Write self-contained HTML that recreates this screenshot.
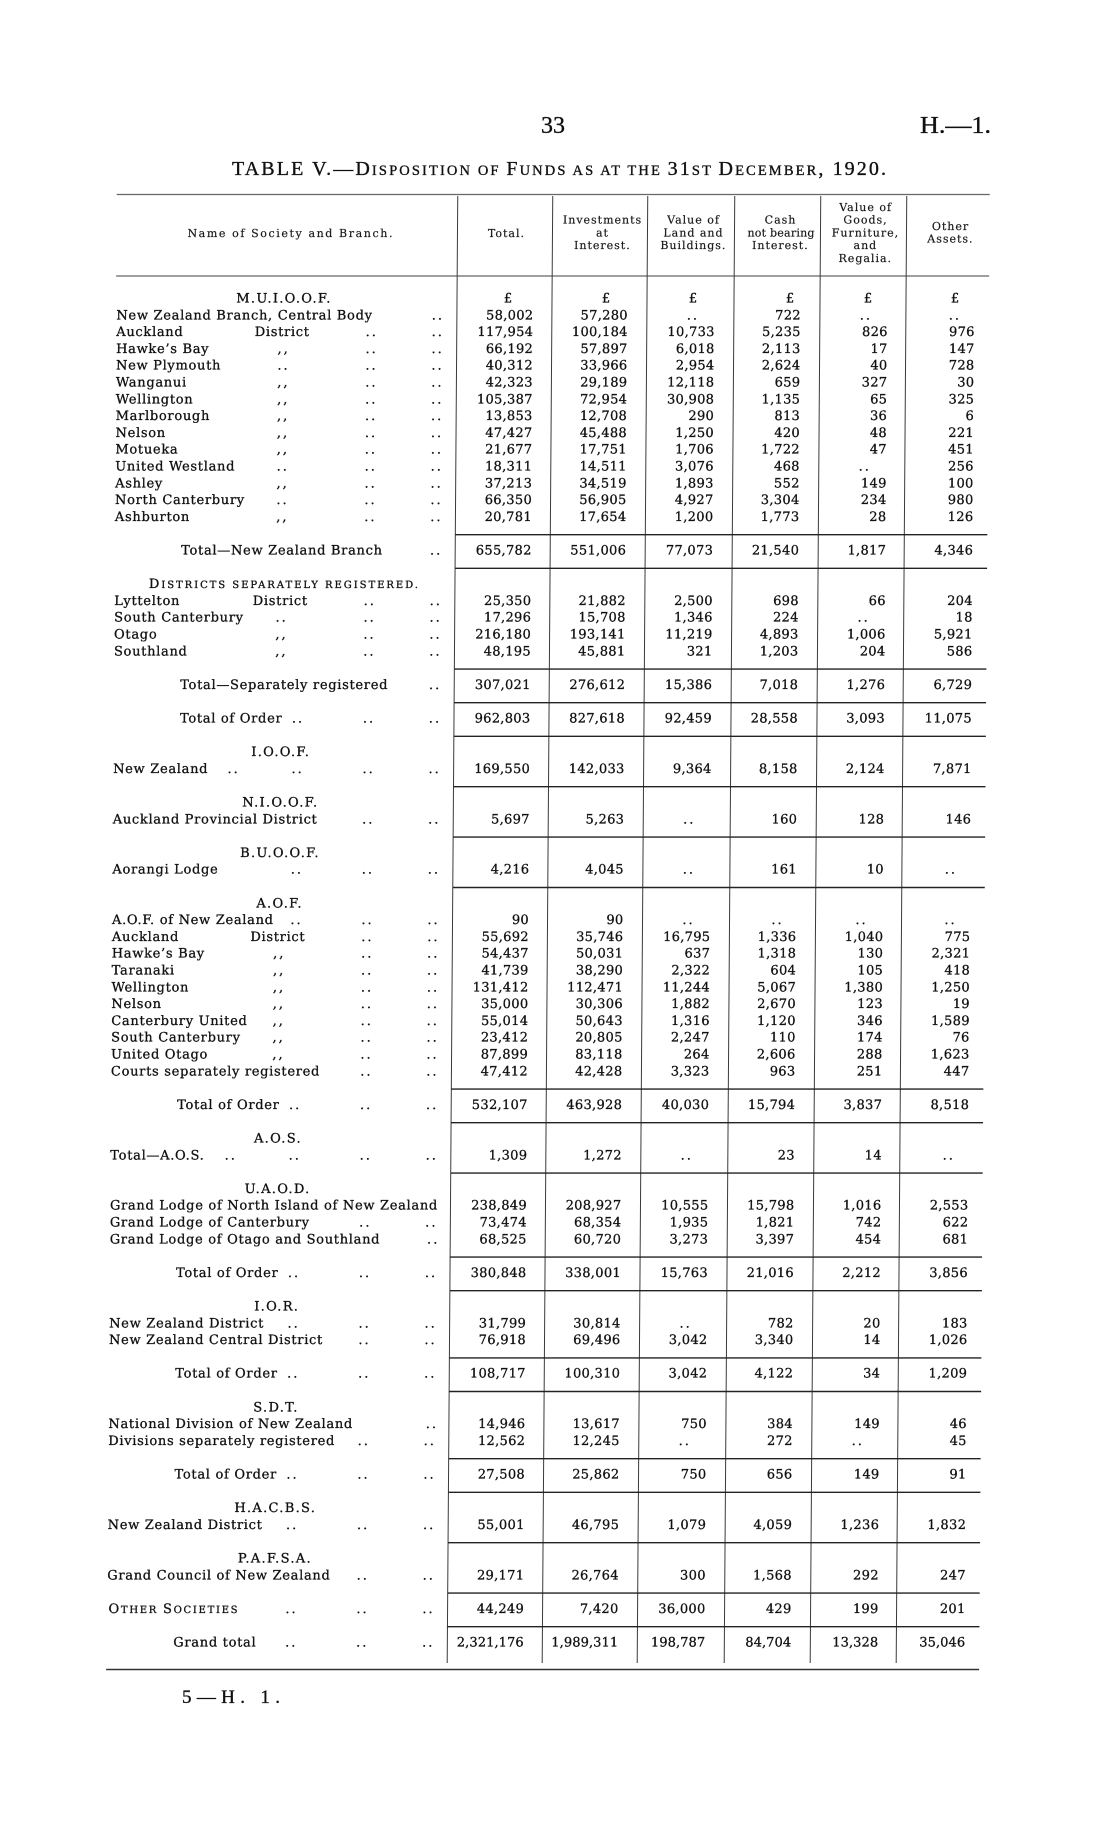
<!DOCTYPE html>
<html>
<head>
<meta charset="utf-8">
<style>
html,body{margin:0;padding:0;background:#fff;}
svg{display:block;}
text{font-family:"DejaVu Serif",serif;fill:#111;stroke:#111;stroke-width:0.3px;}
.nm{font-size:13px;letter-spacing:0.7px;}
.n{font-size:13px;letter-spacing:0.3px;text-anchor:end;}
.g{letter-spacing:0.1px;}
.d{font-size:13px;letter-spacing:2px;text-anchor:middle;}
.h{font-size:13px;letter-spacing:1.3px;text-anchor:middle;}
.hd{font-size:11px;letter-spacing:1px;text-anchor:middle;fill:#1a1a1a;stroke:#1a1a1a;stroke-width:0.2px;}
.pg{font-family:"Liberation Serif",serif;stroke-width:0.35px;}
.hl{stroke:#222;stroke-width:1.4;}
.vl{stroke:#3a3a3a;stroke-width:1;}
.tl{stroke:#666;stroke-width:1.3;}
</style>
</head>
<body>
<svg width="1114" height="1824" viewBox="0 0 1114 1824" xmlns="http://www.w3.org/2000/svg">
<rect width="1114" height="1824" fill="#fff"/>
<!-- page header -->
<text class="pg" x="553" y="133" font-size="24" text-anchor="middle">33</text>
<text class="pg" x="920" y="133" font-size="24" textLength="71" lengthAdjust="spacingAndGlyphs">H.—1.</text>
<text class="pg" x="232" y="175" font-size="20" textLength="654" lengthAdjust="spacing">TABLE V.—D<tspan font-size="14.5">ISPOSITION OF </tspan>F<tspan font-size="14.5">UNDS AS AT THE </tspan>31<tspan font-size="14.5">ST </tspan>D<tspan font-size="14.5">ECEMBER</tspan>, 1920.</text>
<text class="pg" x="182" y="1703" font-size="19" textLength="98" lengthAdjust="spacing">5—H. 1.</text>

<g transform="matrix(1,0,-0.0072,1,2.16,0)">
<!-- header rules -->
<line class="tl" x1="116" y1="194.5" x2="989" y2="194.5"/>
<line class="tl" x1="116" y1="276" x2="989" y2="276"/>
<!-- verticals -->
<line class="vl" x1="457" y1="196" x2="457" y2="1663"/>
<line class="vl" x1="552" y1="196" x2="552" y2="1663"/>
<line class="vl" x1="647" y1="196" x2="647" y2="1663"/>
<line class="vl" x1="734" y1="196" x2="734" y2="1663"/>
<line class="vl" x1="820" y1="196" x2="820" y2="1663"/>
<line class="vl" x1="906" y1="196" x2="906" y2="1663"/>
<!-- bottom rule -->
<line stroke="#333" stroke-width="1.6" x1="116" y1="1669.5" x2="989" y2="1669.5"/>

<!-- column headers -->
<text class="hd" x="290" y="237" textLength="206" lengthAdjust="spacing">Name of Society and Branch.</text>
<text class="hd" x="506" y="237">Total.</text>
<text class="hd" x="602" y="223.7">Investments</text>
<text class="hd" x="602" y="236.4">at</text>
<text class="hd" x="602" y="249.1">Interest.</text>
<text class="hd" x="693" y="223.7">Value of</text>
<text class="hd" x="693" y="236.4">Land and</text>
<text class="hd" x="693" y="249.1">Buildings.</text>
<text class="hd" x="780" y="223.7">Cash</text>
<text class="hd" x="781" y="236.4" textLength="68" lengthAdjust="spacing">not bearing</text>
<text class="hd" x="780" y="249.1">Interest.</text>
<text class="hd" x="865" y="211">Value of</text>
<text class="hd" x="865" y="223.7">Goods,</text>
<text class="hd" x="865" y="236.4">Furniture,</text>
<text class="hd" x="865" y="249.1">and</text>
<text class="hd" x="865" y="261.8">Regalia.</text>
<text class="hd" x="950" y="230">Other</text>
<text class="hd" x="950" y="242.7">Assets.</text>

<!-- horizontal rules in number columns -->
<line class="hl" x1="457" y1="534.7" x2="989" y2="534.7"/>
<line class="hl" x1="457" y1="568.3" x2="989" y2="568.3"/>
<line class="hl" x1="457" y1="669.1" x2="989" y2="669.1"/>
<line class="hl" x1="457" y1="702.7" x2="989" y2="702.7"/>
<line class="hl" x1="457" y1="736.3" x2="989" y2="736.3"/>
<line class="hl" x1="457" y1="786.7" x2="989" y2="786.7"/>
<line class="hl" x1="457" y1="837.1" x2="989" y2="837.1"/>
<line class="hl" x1="457" y1="887.5" x2="989" y2="887.5"/>
<line class="hl" x1="457" y1="1089.1" x2="989" y2="1089.1"/>
<line class="hl" x1="457" y1="1122.7" x2="989" y2="1122.7"/>
<line class="hl" x1="457" y1="1173.1" x2="989" y2="1173.1"/>
<line class="hl" x1="457" y1="1257.1" x2="989" y2="1257.1"/>
<line class="hl" x1="457" y1="1290.7" x2="989" y2="1290.7"/>
<line class="hl" x1="457" y1="1357.9" x2="989" y2="1357.9"/>
<line class="hl" x1="457" y1="1391.5" x2="989" y2="1391.5"/>
<line class="hl" x1="457" y1="1458.7" x2="989" y2="1458.7"/>
<line class="hl" x1="457" y1="1492.3" x2="989" y2="1492.3"/>
<line class="hl" x1="457" y1="1542.7" x2="989" y2="1542.7"/>
<line class="hl" x1="457" y1="1593.1" x2="989" y2="1593.1"/>
<line class="hl" x1="457" y1="1626.7" x2="989" y2="1626.7"/>

<!-- ===== M.U.I.O.O.F. ===== -->
<text class="h" x="284" y="302.5">M.U.I.O.O.F.</text>
<text class="h" y="302.5" style="letter-spacing:0"><tspan x="508">£</tspan><tspan x="606">£</tspan><tspan x="693">£</tspan><tspan x="790">£</tspan><tspan x="868">£</tspan><tspan x="955">£</tspan></text>

<text class="nm" x="116.5" y="319.3">New Zealand Branch, Central Body</text>
<text class="d" x="438" y="319.3">..</text>
<text class="n" y="319.3"><tspan x="533.5">58,002</tspan><tspan x="628">57,280</tspan><tspan x="801">722</tspan></text>
<text class="d" x="693" y="319.3">..</text><text class="d" x="866" y="319.3">..</text><text class="d" x="955" y="319.3">..</text>

<text class="nm" x="116.5" y="336.1">Auckland</text><text class="nm" x="255" y="336.1">District</text>
<text class="d" x="372" y="336.1">..</text><text class="d" x="438" y="336.1">..</text>
<text class="n" y="336.1"><tspan x="533.5">117,954</tspan><tspan x="628">100,184</tspan><tspan x="715">10,733</tspan><tspan x="801">5,235</tspan><tspan x="888">826</tspan><tspan x="975">976</tspan></text>

<text class="nm" x="116.5" y="352.9">Hawke’s Bay</text>
<text class="d" x="284" y="352.9">,,</text><text class="d" x="372" y="352.9">..</text><text class="d" x="438" y="352.9">..</text>
<text class="n" y="352.9"><tspan x="533.5">66,192</tspan><tspan x="628">57,897</tspan><tspan x="715">6,018</tspan><tspan x="801">2,113</tspan><tspan x="888">17</tspan><tspan x="975">147</tspan></text>

<text class="nm" x="116.5" y="369.7">New Plymouth</text>
<text class="d" x="284" y="369.7">..</text><text class="d" x="372" y="369.7">..</text><text class="d" x="438" y="369.7">..</text>
<text class="n" y="369.7"><tspan x="533.5">40,312</tspan><tspan x="628">33,966</tspan><tspan x="715">2,954</tspan><tspan x="801">2,624</tspan><tspan x="888">40</tspan><tspan x="975">728</tspan></text>

<text class="nm" x="116.5" y="386.5">Wanganui</text>
<text class="d" x="284" y="386.5">,,</text><text class="d" x="372" y="386.5">..</text><text class="d" x="438" y="386.5">..</text>
<text class="n" y="386.5"><tspan x="533.5">42,323</tspan><tspan x="628">29,189</tspan><tspan x="715">12,118</tspan><tspan x="801">659</tspan><tspan x="888">327</tspan><tspan x="975">30</tspan></text>

<text class="nm" x="116.5" y="403.3">Wellington</text>
<text class="d" x="284" y="403.3">,,</text><text class="d" x="372" y="403.3">..</text><text class="d" x="438" y="403.3">..</text>
<text class="n" y="403.3"><tspan x="533.5">105,387</tspan><tspan x="628">72,954</tspan><tspan x="715">30,908</tspan><tspan x="801">1,135</tspan><tspan x="888">65</tspan><tspan x="975">325</tspan></text>

<text class="nm" x="116.5" y="420.1">Marlborough</text>
<text class="d" x="284" y="420.1">,,</text><text class="d" x="372" y="420.1">..</text><text class="d" x="438" y="420.1">..</text>
<text class="n" y="420.1"><tspan x="533.5">13,853</tspan><tspan x="628">12,708</tspan><tspan x="715">290</tspan><tspan x="801">813</tspan><tspan x="888">36</tspan><tspan x="975">6</tspan></text>

<text class="nm" x="116.5" y="436.9">Nelson</text>
<text class="d" x="284" y="436.9">,,</text><text class="d" x="372" y="436.9">..</text><text class="d" x="438" y="436.9">..</text>
<text class="n" y="436.9"><tspan x="533.5">47,427</tspan><tspan x="628">45,488</tspan><tspan x="715">1,250</tspan><tspan x="801">420</tspan><tspan x="888">48</tspan><tspan x="975">221</tspan></text>

<text class="nm" x="116.5" y="453.7">Motueka</text>
<text class="d" x="284" y="453.7">,,</text><text class="d" x="372" y="453.7">..</text><text class="d" x="438" y="453.7">..</text>
<text class="n" y="453.7"><tspan x="533.5">21,677</tspan><tspan x="628">17,751</tspan><tspan x="715">1,706</tspan><tspan x="801">1,722</tspan><tspan x="888">47</tspan><tspan x="975">451</tspan></text>

<text class="nm" x="116.5" y="470.5">United Westland</text>
<text class="d" x="284" y="470.5">..</text><text class="d" x="372" y="470.5">..</text><text class="d" x="438" y="470.5">..</text>
<text class="n" y="470.5"><tspan x="533.5">18,311</tspan><tspan x="628">14,511</tspan><tspan x="715">3,076</tspan><tspan x="801">468</tspan><tspan x="975">256</tspan></text>
<text class="d" x="866" y="470.5">..</text>

<text class="nm" x="116.5" y="487.3">Ashley</text>
<text class="d" x="284" y="487.3">,,</text><text class="d" x="372" y="487.3">..</text><text class="d" x="438" y="487.3">..</text>
<text class="n" y="487.3"><tspan x="533.5">37,213</tspan><tspan x="628">34,519</tspan><tspan x="715">1,893</tspan><tspan x="801">552</tspan><tspan x="888">149</tspan><tspan x="975">100</tspan></text>

<text class="nm" x="116.5" y="504.1">North Canterbury</text>
<text class="d" x="284" y="504.1">..</text><text class="d" x="372" y="504.1">..</text><text class="d" x="438" y="504.1">..</text>
<text class="n" y="504.1"><tspan x="533.5">66,350</tspan><tspan x="628">56,905</tspan><tspan x="715">4,927</tspan><tspan x="801">3,304</tspan><tspan x="888">234</tspan><tspan x="975">980</tspan></text>

<text class="nm" x="116.5" y="520.9">Ashburton</text>
<text class="d" x="284" y="520.9">,,</text><text class="d" x="372" y="520.9">..</text><text class="d" x="438" y="520.9">..</text>
<text class="n" y="520.9"><tspan x="533.5">20,781</tspan><tspan x="628">17,654</tspan><tspan x="715">1,200</tspan><tspan x="801">1,773</tspan><tspan x="888">28</tspan><tspan x="975">126</tspan></text>

<text class="nm" x="183" y="554.5">Total—New Zealand Branch</text>
<text class="d" x="438" y="554.5">..</text>
<text class="n" y="554.5"><tspan x="533.5">655,782</tspan><tspan x="628">551,006</tspan><tspan x="715">77,073</tspan><tspan x="801">21,540</tspan><tspan x="888">1,817</tspan><tspan x="975">4,346</tspan></text>

<!-- Districts separately registered -->
<text class="nm" x="151" y="588.1" textLength="269" lengthAdjust="spacing" style="letter-spacing:0">D<tspan font-size="10">ISTRICTS SEPARATELY REGISTERED.</tspan></text>

<text class="nm" x="116.5" y="604.9">Lyttelton</text><text class="nm" x="255" y="604.9">District</text>
<text class="d" x="372" y="604.9">..</text><text class="d" x="438" y="604.9">..</text>
<text class="n" y="604.9"><tspan x="533.5">25,350</tspan><tspan x="628">21,882</tspan><tspan x="715">2,500</tspan><tspan x="801">698</tspan><tspan x="888">66</tspan><tspan x="975">204</tspan></text>

<text class="nm" x="116.5" y="621.7">South Canterbury</text>
<text class="d" x="284" y="621.7">..</text><text class="d" x="372" y="621.7">..</text><text class="d" x="438" y="621.7">..</text>
<text class="n" y="621.7"><tspan x="533.5">17,296</tspan><tspan x="628">15,708</tspan><tspan x="715">1,346</tspan><tspan x="801">224</tspan><tspan x="975">18</tspan></text>
<text class="d" x="866" y="621.7">..</text>

<text class="nm" x="116.5" y="638.5">Otago</text>
<text class="d" x="284" y="638.5">,,</text><text class="d" x="372" y="638.5">..</text><text class="d" x="438" y="638.5">..</text>
<text class="n" y="638.5"><tspan x="533.5">216,180</tspan><tspan x="628">193,141</tspan><tspan x="715">11,219</tspan><tspan x="801">4,893</tspan><tspan x="888">1,006</tspan><tspan x="975">5,921</tspan></text>

<text class="nm" x="116.5" y="655.3">Southland</text>
<text class="d" x="284" y="655.3">,,</text><text class="d" x="372" y="655.3">..</text><text class="d" x="438" y="655.3">..</text>
<text class="n" y="655.3"><tspan x="533.5">48,195</tspan><tspan x="628">45,881</tspan><tspan x="715">321</tspan><tspan x="801">1,203</tspan><tspan x="888">204</tspan><tspan x="975">586</tspan></text>

<text class="nm" x="183" y="688.9">Total—Separately registered</text>
<text class="d" x="438" y="688.9">..</text>
<text class="n" y="688.9"><tspan x="533.5">307,021</tspan><tspan x="628">276,612</tspan><tspan x="715">15,386</tspan><tspan x="801">7,018</tspan><tspan x="888">1,276</tspan><tspan x="975">6,729</tspan></text>

<text class="nm" x="183" y="722.5">Total of Order</text>
<text class="d" x="301" y="722.5">..</text><text class="d" x="372" y="722.5">..</text><text class="d" x="438" y="722.5">..</text>
<text class="n" y="722.5"><tspan x="533.5">962,803</tspan><tspan x="628">827,618</tspan><tspan x="715">92,459</tspan><tspan x="801">28,558</tspan><tspan x="888">3,093</tspan><tspan x="975">11,075</tspan></text>

<!-- I.O.O.F. -->
<text class="h" x="284" y="756.1">I.O.O.F.</text>
<text class="nm" x="116.5" y="772.9">New Zealand</text>
<text class="d" x="237" y="772.9">..</text><text class="d" x="301" y="772.9">..</text><text class="d" x="372" y="772.9">..</text><text class="d" x="438" y="772.9">..</text>
<text class="n" y="772.9"><tspan x="533.5">169,550</tspan><tspan x="628">142,033</tspan><tspan x="715">9,364</tspan><tspan x="801">8,158</tspan><tspan x="888">2,124</tspan><tspan x="975">7,871</tspan></text>

<!-- N.I.O.O.F. -->
<text class="h" x="284" y="806.5">N.I.O.O.F.</text>
<text class="nm" x="116.5" y="823.3">Auckland Provincial District</text>
<text class="d" x="372" y="823.3">..</text><text class="d" x="438" y="823.3">..</text>
<text class="n" y="823.3"><tspan x="533.5">5,697</tspan><tspan x="628">5,263</tspan><tspan x="801">160</tspan><tspan x="888">128</tspan><tspan x="975">146</tspan></text>
<text class="d" x="693" y="823.3">..</text>

<!-- B.U.O.O.F. -->
<text class="h" x="284" y="856.9">B.U.O.O.F.</text>
<text class="nm" x="116.5" y="873.7">Aorangi Lodge</text>
<text class="d" x="301" y="873.7">..</text><text class="d" x="372" y="873.7">..</text><text class="d" x="438" y="873.7">..</text>
<text class="n" y="873.7"><tspan x="533.5">4,216</tspan><tspan x="628">4,045</tspan><tspan x="801">161</tspan><tspan x="888">10</tspan></text>
<text class="d" x="693" y="873.7">..</text><text class="d" x="955" y="873.7">..</text>

<!-- A.O.F. -->
<text class="h" x="284" y="907.3">A.O.F.</text>
<text class="nm" x="116.5" y="924.1">A.O.F. of New Zealand</text>
<text class="d" x="301" y="924.1">..</text><text class="d" x="372" y="924.1">..</text><text class="d" x="438" y="924.1">..</text>
<text class="n" y="924.1"><tspan x="533.5">90</tspan><tspan x="628">90</tspan></text>
<text class="d" x="693" y="924.1">..</text><text class="d" x="782" y="924.1">..</text><text class="d" x="866" y="924.1">..</text><text class="d" x="955" y="924.1">..</text>

<text class="nm" x="116.5" y="940.9">Auckland</text><text class="nm" x="255" y="940.9">District</text>
<text class="d" x="372" y="940.9">..</text><text class="d" x="438" y="940.9">..</text>
<text class="n" y="940.9"><tspan x="533.5">55,692</tspan><tspan x="628">35,746</tspan><tspan x="715">16,795</tspan><tspan x="801">1,336</tspan><tspan x="888">1,040</tspan><tspan x="975">775</tspan></text>

<text class="nm" x="116.5" y="957.7">Hawke’s Bay</text>
<text class="d" x="284" y="957.7">,,</text><text class="d" x="372" y="957.7">..</text><text class="d" x="438" y="957.7">..</text>
<text class="n" y="957.7"><tspan x="533.5">54,437</tspan><tspan x="628">50,031</tspan><tspan x="715">637</tspan><tspan x="801">1,318</tspan><tspan x="888">130</tspan><tspan x="975">2,321</tspan></text>

<text class="nm" x="116.5" y="974.5">Taranaki</text>
<text class="d" x="284" y="974.5">,,</text><text class="d" x="372" y="974.5">..</text><text class="d" x="438" y="974.5">..</text>
<text class="n" y="974.5"><tspan x="533.5">41,739</tspan><tspan x="628">38,290</tspan><tspan x="715">2,322</tspan><tspan x="801">604</tspan><tspan x="888">105</tspan><tspan x="975">418</tspan></text>

<text class="nm" x="116.5" y="991.3">Wellington</text>
<text class="d" x="284" y="991.3">,,</text><text class="d" x="372" y="991.3">..</text><text class="d" x="438" y="991.3">..</text>
<text class="n" y="991.3"><tspan x="533.5">131,412</tspan><tspan x="628">112,471</tspan><tspan x="715">11,244</tspan><tspan x="801">5,067</tspan><tspan x="888">1,380</tspan><tspan x="975">1,250</tspan></text>

<text class="nm" x="116.5" y="1008.1">Nelson</text>
<text class="d" x="284" y="1008.1">,,</text><text class="d" x="372" y="1008.1">..</text><text class="d" x="438" y="1008.1">..</text>
<text class="n" y="1008.1"><tspan x="533.5">35,000</tspan><tspan x="628">30,306</tspan><tspan x="715">1,882</tspan><tspan x="801">2,670</tspan><tspan x="888">123</tspan><tspan x="975">19</tspan></text>

<text class="nm" x="116.5" y="1024.9">Canterbury United</text>
<text class="d" x="284" y="1024.9">,,</text><text class="d" x="372" y="1024.9">..</text><text class="d" x="438" y="1024.9">..</text>
<text class="n" y="1024.9"><tspan x="533.5">55,014</tspan><tspan x="628">50,643</tspan><tspan x="715">1,316</tspan><tspan x="801">1,120</tspan><tspan x="888">346</tspan><tspan x="975">1,589</tspan></text>

<text class="nm" x="116.5" y="1041.7">South Canterbury</text>
<text class="d" x="284" y="1041.7">,,</text><text class="d" x="372" y="1041.7">..</text><text class="d" x="438" y="1041.7">..</text>
<text class="n" y="1041.7"><tspan x="533.5">23,412</tspan><tspan x="628">20,805</tspan><tspan x="715">2,247</tspan><tspan x="801">110</tspan><tspan x="888">174</tspan><tspan x="975">76</tspan></text>

<text class="nm" x="116.5" y="1058.5">United Otago</text>
<text class="d" x="284" y="1058.5">,,</text><text class="d" x="372" y="1058.5">..</text><text class="d" x="438" y="1058.5">..</text>
<text class="n" y="1058.5"><tspan x="533.5">87,899</tspan><tspan x="628">83,118</tspan><tspan x="715">264</tspan><tspan x="801">2,606</tspan><tspan x="888">288</tspan><tspan x="975">1,623</tspan></text>

<text class="nm" x="116.5" y="1075.3">Courts separately registered</text>
<text class="d" x="372" y="1075.3">..</text><text class="d" x="438" y="1075.3">..</text>
<text class="n" y="1075.3"><tspan x="533.5">47,412</tspan><tspan x="628">42,428</tspan><tspan x="715">3,323</tspan><tspan x="801">963</tspan><tspan x="888">251</tspan><tspan x="975">447</tspan></text>

<text class="nm" x="183" y="1108.9">Total of Order</text>
<text class="d" x="301" y="1108.9">..</text><text class="d" x="372" y="1108.9">..</text><text class="d" x="438" y="1108.9">..</text>
<text class="n" y="1108.9"><tspan x="533.5">532,107</tspan><tspan x="628">463,928</tspan><tspan x="715">40,030</tspan><tspan x="801">15,794</tspan><tspan x="888">3,837</tspan><tspan x="975">8,518</tspan></text>

<!-- A.O.S. -->
<text class="h" x="284" y="1142.5">A.O.S.</text>
<text class="nm" x="116.5" y="1159.3">Total—A.O.S.</text>
<text class="d" x="237" y="1159.3">..</text><text class="d" x="301" y="1159.3">..</text><text class="d" x="372" y="1159.3">..</text><text class="d" x="438" y="1159.3">..</text>
<text class="n" y="1159.3"><tspan x="533.5">1,309</tspan><tspan x="628">1,272</tspan><tspan x="801">23</tspan><tspan x="888">14</tspan></text>
<text class="d" x="693" y="1159.3">..</text><text class="d" x="955" y="1159.3">..</text>

<!-- U.A.O.D. -->
<text class="h" x="284" y="1192.9">U.A.O.D.</text>
<text class="nm" x="116.5" y="1209.7" textLength="328" lengthAdjust="spacing">Grand Lodge of North Island of New Zealand</text>
<text class="n" y="1209.7"><tspan x="533.5">238,849</tspan><tspan x="628">208,927</tspan><tspan x="715">10,555</tspan><tspan x="801">15,798</tspan><tspan x="888">1,016</tspan><tspan x="975">2,553</tspan></text>

<text class="nm" x="116.5" y="1226.5">Grand Lodge of Canterbury</text>
<text class="d" x="372" y="1226.5">..</text><text class="d" x="438" y="1226.5">..</text>
<text class="n" y="1226.5"><tspan x="533.5">73,474</tspan><tspan x="628">68,354</tspan><tspan x="715">1,935</tspan><tspan x="801">1,821</tspan><tspan x="888">742</tspan><tspan x="975">622</tspan></text>

<text class="nm" x="116.5" y="1243.3">Grand Lodge of Otago and Southland</text>
<text class="d" x="440" y="1243.3">..</text>
<text class="n" y="1243.3"><tspan x="533.5">68,525</tspan><tspan x="628">60,720</tspan><tspan x="715">3,273</tspan><tspan x="801">3,397</tspan><tspan x="888">454</tspan><tspan x="975">681</tspan></text>

<text class="nm" x="183" y="1276.9">Total of Order</text>
<text class="d" x="301" y="1276.9">..</text><text class="d" x="372" y="1276.9">..</text><text class="d" x="438" y="1276.9">..</text>
<text class="n" y="1276.9"><tspan x="533.5">380,848</tspan><tspan x="628">338,001</tspan><tspan x="715">15,763</tspan><tspan x="801">21,016</tspan><tspan x="888">2,212</tspan><tspan x="975">3,856</tspan></text>

<!-- I.O.R. -->
<text class="h" x="284" y="1310.5">I.O.R.</text>
<text class="nm" x="116.5" y="1327.3">New Zealand District</text>
<text class="d" x="301" y="1327.3">..</text><text class="d" x="372" y="1327.3">..</text><text class="d" x="438" y="1327.3">..</text>
<text class="n" y="1327.3"><tspan x="533.5">31,799</tspan><tspan x="628">30,814</tspan><tspan x="801">782</tspan><tspan x="888">20</tspan><tspan x="975">183</tspan></text>
<text class="d" x="693" y="1327.3">..</text>

<text class="nm" x="116.5" y="1344.1">New Zealand Central District</text>
<text class="d" x="372" y="1344.1">..</text><text class="d" x="438" y="1344.1">..</text>
<text class="n" y="1344.1"><tspan x="533.5">76,918</tspan><tspan x="628">69,496</tspan><tspan x="715">3,042</tspan><tspan x="801">3,340</tspan><tspan x="888">14</tspan><tspan x="975">1,026</tspan></text>

<text class="nm" x="183" y="1377.7">Total of Order</text>
<text class="d" x="301" y="1377.7">..</text><text class="d" x="372" y="1377.7">..</text><text class="d" x="438" y="1377.7">..</text>
<text class="n" y="1377.7"><tspan x="533.5">108,717</tspan><tspan x="628">100,310</tspan><tspan x="715">3,042</tspan><tspan x="801">4,122</tspan><tspan x="888">34</tspan><tspan x="975">1,209</tspan></text>

<!-- S.D.T. -->
<text class="h" x="284" y="1411.3">S.D.T.</text>
<text class="nm" x="116.5" y="1428.1">National Division of New Zealand</text>
<text class="d" x="440" y="1428.1">..</text>
<text class="n" y="1428.1"><tspan x="533.5">14,946</tspan><tspan x="628">13,617</tspan><tspan x="715">750</tspan><tspan x="801">384</tspan><tspan x="888">149</tspan><tspan x="975">46</tspan></text>

<text class="nm" x="116.5" y="1444.9">Divisions separately registered</text>
<text class="d" x="372" y="1444.9">..</text><text class="d" x="438" y="1444.9">..</text>
<text class="n" y="1444.9"><tspan x="533.5">12,562</tspan><tspan x="628">12,245</tspan><tspan x="801">272</tspan><tspan x="975">45</tspan></text>
<text class="d" x="693" y="1444.9">..</text><text class="d" x="866" y="1444.9">..</text>

<text class="nm" x="183" y="1478.5">Total of Order</text>
<text class="d" x="301" y="1478.5">..</text><text class="d" x="372" y="1478.5">..</text><text class="d" x="438" y="1478.5">..</text>
<text class="n" y="1478.5"><tspan x="533.5">27,508</tspan><tspan x="628">25,862</tspan><tspan x="715">750</tspan><tspan x="801">656</tspan><tspan x="888">149</tspan><tspan x="975">91</tspan></text>

<!-- H.A.C.B.S. -->
<text class="h" x="284" y="1512.1">H.A.C.B.S.</text>
<text class="nm" x="116.5" y="1528.9">New Zealand District</text>
<text class="d" x="301" y="1528.9">..</text><text class="d" x="372" y="1528.9">..</text><text class="d" x="438" y="1528.9">..</text>
<text class="n" y="1528.9"><tspan x="533.5">55,001</tspan><tspan x="628">46,795</tspan><tspan x="715">1,079</tspan><tspan x="801">4,059</tspan><tspan x="888">1,236</tspan><tspan x="975">1,832</tspan></text>

<!-- P.A.F.S.A. -->
<text class="h" x="284" y="1562.5">P.A.F.S.A.</text>
<text class="nm" x="116.5" y="1579.3">Grand Council of New Zealand</text>
<text class="d" x="372" y="1579.3">..</text><text class="d" x="438" y="1579.3">..</text>
<text class="n" y="1579.3"><tspan x="533.5">29,171</tspan><tspan x="628">26,764</tspan><tspan x="715">300</tspan><tspan x="801">1,568</tspan><tspan x="888">292</tspan><tspan x="975">247</tspan></text>

<!-- Other Societies -->
<text class="nm" x="118" y="1612.9" textLength="129" lengthAdjust="spacing" style="letter-spacing:0">O<tspan font-size="10">THER </tspan>S<tspan font-size="10">OCIETIES</tspan></text>
<text class="d" x="301" y="1612.9">..</text><text class="d" x="372" y="1612.9">..</text><text class="d" x="438" y="1612.9">..</text>
<text class="n" y="1612.9"><tspan x="533.5">44,249</tspan><tspan x="628">7,420</tspan><tspan x="715">36,000</tspan><tspan x="801">429</tspan><tspan x="888">199</tspan><tspan x="975">201</tspan></text>

<!-- Grand total -->
<text class="nm" x="183" y="1646.5">Grand total</text>
<text class="d" x="301" y="1646.5">..</text><text class="d" x="372" y="1646.5">..</text><text class="d" x="438" y="1646.5">..</text>
<text class="n g" y="1646.5"><tspan x="533.5">2,321,176</tspan><tspan x="628">1,989,311</tspan><tspan x="715">198,787</tspan><tspan x="801">84,704</tspan><tspan x="888">13,328</tspan><tspan x="975">35,046</tspan></text>
</g>
</svg>
</body>
</html>
